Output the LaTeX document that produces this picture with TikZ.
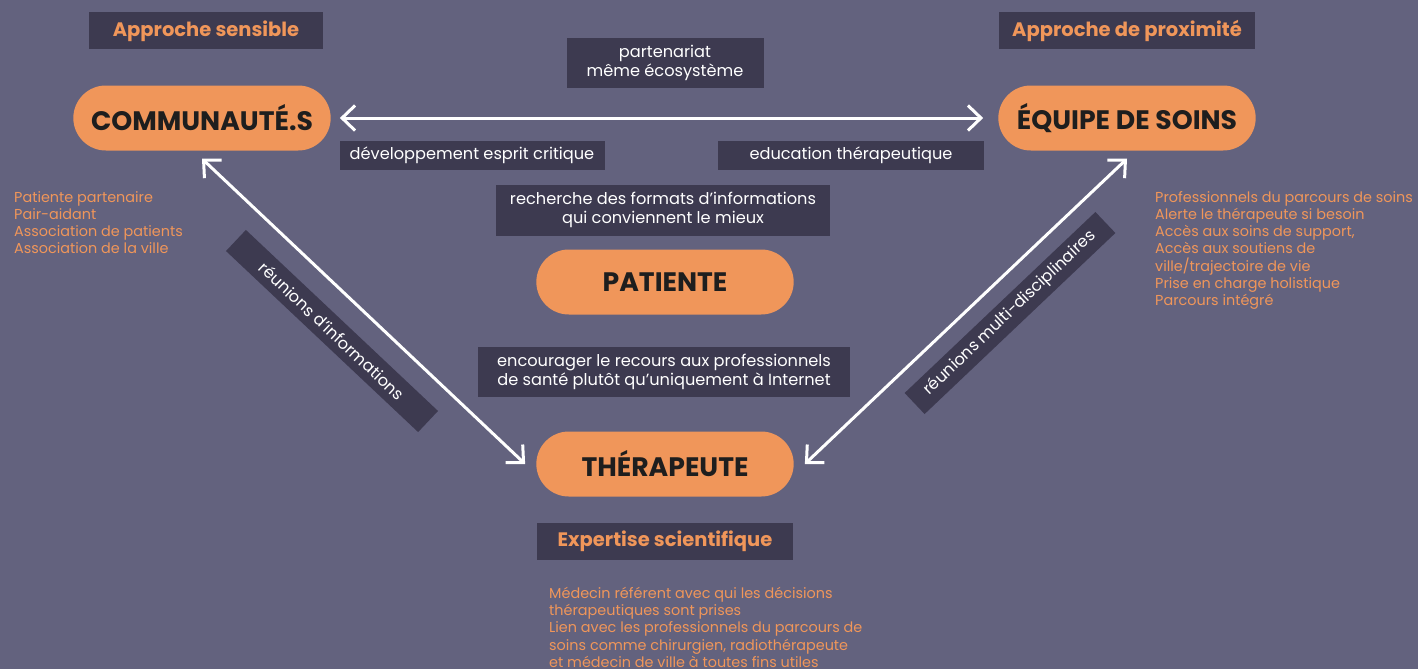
\documentclass[tikz,border=0pt]{standalone}
\usepackage{fontspec}
\setmainfont{Poppins}
\usepackage{tikz}
\usetikzlibrary{shapes,arrows.meta}
\definecolor{fond}{HTML}{63627E}
\definecolor{sombre}{HTML}{3D3A50}
\definecolor{orange}{HTML}{F0965A}
\definecolor{encre}{HTML}{1E1E1E}

\begin{document}
\begin{tikzpicture}[x=1pt,y=-1pt,
  acteur/.style={rounded rectangle,fill=orange,text=encre,font=\bfseries\fontsize{26.7}{32}\selectfont,minimum width=264pt,minimum height=65pt},
  titre/.style={fill=sombre,text=orange,font=\bfseries\fontsize{19.5}{23}\selectfont,minimum height=37pt,inner sep=0pt},
  lien/.style={fill=sombre,text=white,font=\fontsize{16.2}{19.5}\selectfont,align=center,inner sep=0pt},
  liste/.style={text=orange,font=\fontsize{14.4}{17.2}\selectfont,align=left,anchor=north west,inner sep=0pt},
  fleche/.style={draw=white,line width=3pt,{Straight Barb[length=13pt,width=25pt]}-{Straight Barb[length=13pt,width=25pt]}}]
\useasboundingbox[fill=fond] (0,0) rectangle (1418,669);

\node[acteur] (comm) at (202,118) {COMMUNAUTÉ.S};
\node[acteur] (equipe) at (1127,118) {ÉQUIPE DE SOINS};
\node[acteur] (patiente) at (665,282) {PATIENTE};
\node[acteur] (thera) at (665,464) {THÉRAPEUTE};

\node[titre,minimum width=234pt] (sensible) at (206,31) {Approche sensible};
\node[titre,minimum width=256pt] (proximite) at (1127,31) {Approche de proximité};
\node[titre,minimum width=256pt] (expertise) at (665,541) {Expertise scientifique};

\node[lien,minimum width=197pt,minimum height=50pt] (partenariat) at (665,63) {partenariat\\même écosystème};
\node[lien,minimum width=265pt,minimum height=29pt] (esprit) at (472,155) {développement esprit critique};
\node[lien,minimum width=266pt,minimum height=29pt] (education) at (851,155) {education thérapeutique};
\node[lien,minimum width=334pt,minimum height=51pt] (formats) at (663,210) {recherche des formats d’informations\\qui conviennent le mieux};
\node[lien,minimum width=372pt,minimum height=50pt] (recours) at (664,372) {encourager le recours aux professionnels\\de santé plutôt qu’uniquement à Internet};
\node[lien,rotate=-43.3,minimum width=264pt,minimum height=29pt] (infos) at (332,331) {réunions d’informations};
\node[lien,rotate=43.5,minimum width=263pt,minimum height=29pt] (multi) at (1010,313) {réunions multi-disciplinaires};

\node[liste] (listecomm) at (14,191) {Patiente partenaire\\Pair-aidant\\Association de patients\\Association de la ville};
\node[liste] (listeequipe) at (1155,191) {Professionnels du parcours de soins\\Alerte le thérapeute si besoin\\Accès aux soins de support,\\Accès aux soutiens de\\ville/trajectoire de vie\\Prise en charge holistique\\Parcours intégré};
\node[liste] (listethera) at (549,587) {Médecin référent avec qui les décisions\\thérapeutiques sont prises\\Lien avec les professionnels du parcours de\\soins comme chirurgien, radiothérapeute\\et médecin de ville à toutes fins utiles};

\draw[fleche] ([xshift=9pt]comm.east) -- ([xshift=-15pt]equipe.west);
\draw[fleche] ([yshift=-8pt]comm.south) -- ([xshift=-11pt]thera.west);
\draw[fleche] ([yshift=-8pt]equipe.south) -- ([xshift=11pt]thera.east);
\end{tikzpicture}
\end{document}
